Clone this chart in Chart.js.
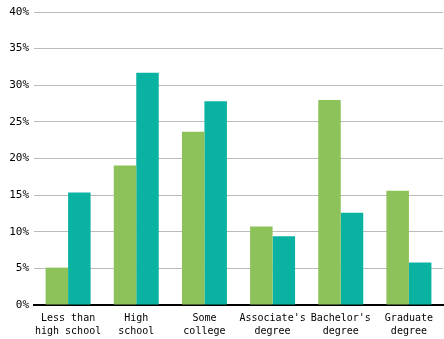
<!DOCTYPE html>
<html>
<head>
<meta charset="utf-8">
<script src="https://cdn.jsdelivr.net/npm/chart.js@4/dist/chart.umd.min.js"></script>
<style>
html,body{margin:0;padding:0;background:#fff;}
#wrap{width:444px;height:339px;}
</style>
</head>
<body>
<div id="wrap"><canvas id="c" width="444" height="339"></canvas></div>
<script>
const categories = [
  ["Less than", "high school"],
  ["High", "school"],
  ["Some", "college"],
  ["Associate's", "degree"],
  ["Bachelor's", "degree"],
  ["Graduate", "degree"]
];
const seriesGreen = [5.1, 19.05, 23.65, 10.7, 28.0, 15.6];
const seriesTeal = [15.35, 31.7, 27.8, 9.4, 12.6, 5.8];
const yTicks = [0, 5, 10, 15, 20, 25, 30, 35, 40];

const FONT = "'DejaVu Sans Mono', monospace";

new Chart(document.getElementById('c'), {
  type: 'bar',
  data: {
    labels: categories,
    datasets: [
      { label: 'A', data: seriesGreen, backgroundColor: '#8dc15a', borderWidth: 0 },
      { label: 'B', data: seriesTeal, backgroundColor: '#0ab3a1', borderWidth: 0 }
    ]
  },
  options: {
    responsive: false,
    animation: false,
    devicePixelRatio: 1,
    layout: { padding: { top: 12, right: 1, left: 0, bottom: 0 } },
    plugins: { legend: { display: false }, tooltip: { enabled: false } },
    datasets: { bar: { barPercentage: 1.0, categoryPercentage: 0.66 } },
    scales: {
      x: {
        grid: { display: false, drawTicks: false },
        border: { display: true, color: '#000', width: 2 },
        afterFit: (axis) => { axis.height = 34; },
        ticks: {
          color: '#000',
          font: { family: FONT, size: 10, lineHeight: 1.3 },
          padding: 7,
          maxRotation: 0,
          autoSkip: false
        }
      },
      y: {
        min: 0,
        max: 40,
        afterBuildTicks: (axis) => { axis.ticks = yTicks.map(v => ({ value: v })); },
        afterFit: (axis) => { axis.width = 34; },
        grid: { color: '#bbbbbb', lineWidth: 1, drawTicks: false },
        border: { display: false },
        ticks: {
          color: '#000',
          font: { family: FONT, size: 11 },
          padding: 5,
          callback: (v) => v + '%'
        }
      }
    }
  }
});
</script>
</body>
</html>
